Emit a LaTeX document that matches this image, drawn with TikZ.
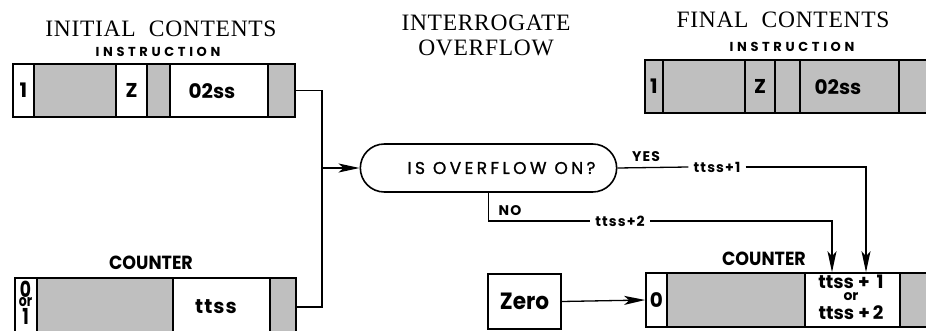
\documentclass[tikz,border=0pt]{standalone}
\usepackage{fontspec}
\setmainfont{Liberation Serif}
\newfontfamily\titlefont[LetterSpace=3]{Liberation Serif}
\newfontfamily\geo{Poppins}
\newfontfamily\geocap[LetterSpace=28]{Poppins}
\newfontfamily\geobox[FakeStretch=0.92]{Poppins}
\newfontfamily\geoq[LetterSpace=20,FakeBold=1.2]{Poppins}
\newfontfamily\geolab[LetterSpace=8]{Poppins}
\newfontfamily\geonarrow[FakeStretch=0.78]{Poppins}
\usetikzlibrary{arrows.meta,shapes.misc}

\tikzset{
  cell/.style={draw, line width=1.6pt, inner sep=0pt, minimum height=#1},
  cell/.default=53pt,
  shade/.style={fill=black!25},
  title/.style={font=\titlefont\fontsize{23.5}{25}\selectfont, inner sep=0pt, align=center},
  caption/.style={font=\geocap\bfseries\fontsize{13}{14}\selectfont, inner sep=0pt},
  regname/.style={font=\geobox\bfseries\fontsize{19}{20}\selectfont, inner sep=0pt},
  celltext/.style={font=\geo\bfseries\fontsize{20}{21}\selectfont},
  conn/.style={line width=1.3pt},
  flowlabel/.style={font=\geolab\bfseries\fontsize{14}{15}\selectfont, inner sep=5pt},
  stack/.style={font=\geo\bfseries\fontsize{18.5}{19}\selectfont, inner sep=0pt},
  tip/.style={-{Stealth[length=21pt,width=9pt,inset=5pt]}},
}

\begin{document}
\begin{tikzpicture}[x=1pt,y=-1pt]
\useasboundingbox (0,0) rectangle (926,331);
\clip (0,0) rectangle (926,331);

% ---- headings ----
\node[title] (hInit) at (161,29) {INITIAL\ \ CONTENTS};
\node[title] (hIntr) at (486,35) {INTERROGATE\\OVERFLOW};
\node[title] (hFin) at (783,20) {FINAL\ \ CONTENTS};

% ---- initial instruction register ----
\node[caption] (capI1) at (158,52) {INSTRUCTION};
\node[cell, minimum width=21pt, celltext] (i1) at (23.5,90.5) {1};
\node[cell, shade, minimum width=82pt] (i2) at (75,90.5) {};
\node[cell, minimum width=31pt, celltext] (i3) at (131.5,90.5) {Z};
\node[cell, shade, minimum width=23pt] (i4) at (158.5,90.5) {};
\node[cell, minimum width=98pt] (i5) at (219,90.5) {};
\node[celltext, inner sep=0pt] (i5txt) at (212,91) {02ss};
\node[cell, shade, minimum width=27pt] (i6) at (281.5,90.5) {};

% ---- initial counter register ----
\node[regname] (capC1) at (151,263) {COUNTER};
\node[cell=58pt, minimum width=22pt] (c1) at (26,307) {};
\node[font=\geonarrow\bfseries\fontsize{22}{22}\selectfont, inner sep=0pt] (c1a) at (25.5,289) {0};
\node[font=\geonarrow\bfseries\fontsize{16}{16}\selectfont, inner sep=0pt] (c1b) at (25.5,302) {or};
\node[font=\geonarrow\bfseries\fontsize{22}{22}\selectfont, inner sep=0pt] (c1c) at (25.5,316) {1};
\node[cell=58pt, shade, minimum width=136pt] (c2) at (105,307) {};
\node[cell=58pt, minimum width=97pt] (c3) at (221.5,307) {};
\node[celltext, inner sep=0pt] (c3txt) at (216,307) {t\kern1pt t\kern1pt s\kern1pt s};
\node[cell=58pt, shade, minimum width=26pt] (c4) at (283,307) {};

% ---- decision ----
\node[draw, line width=1.6pt, rounded rectangle, minimum width=263pt, minimum height=48pt,
      font=\geoq\fontsize{17}{18}\selectfont] (dec) at (488.5,168) {\hspace*{26pt}IS OVERFLOW ON?};

% bus collecting both registers
\coordinate (bus) at (322,0);
\draw[conn] (i6.east) -| (bus |- c4.east) -- (c4.east);
\draw[conn, tip] (bus |- dec.west) -- (dec.west);

% ---- final instruction register ----
\node[caption] (capI2) at (792,47) {INSTRUCTION};
\node[cell, shade, minimum width=18pt, celltext] (g1) at (654,86.5) {1};
\node[cell, shade, minimum width=82pt] (g2) at (704,86.5) {};
\node[cell, shade, minimum width=30pt, celltext] (g3) at (760,86.5) {Z};
\node[cell, shade, minimum width=25pt] (g4) at (787.5,86.5) {};
\node[cell, shade, minimum width=99pt] (g5) at (849.5,86.5) {};
\node[celltext, inner sep=0pt] (g5txt) at (838,87) {02ss};
\node[cell, shade, minimum width=41pt] (g6) at (919.5,86.5) {};

% ---- final counter register ----
\node[regname] (capC2) at (764,259) {COUNTER};
\node[cell=54pt, minimum width=21pt, celltext] (f1) at (656.5,300) {0};
\node[cell=54pt, shade, minimum width=138pt] (f2) at (736,300) {};
\node[cell=54pt, minimum width=95pt] (f3) at (852.5,300) {};
\node[stack] (f3a) at (851,282) {ttss\kern4pt+\kern7pt1};
\node[stack, font=\geo\bfseries\fontsize{14}{15}\selectfont] (f3b) at (851,297) {or};
\node[stack] (f3c) at (851,312.5) {ttss\kern4pt+\kern3pt2};
\node[cell=54pt, shade, minimum width=41pt] (f4) at (920.5,300) {};

% ---- zero source ----
\node[draw, line width=1.6pt, minimum width=73pt, minimum height=55pt,
      font=\geobox\bfseries\fontsize{23.5}{24}\selectfont] (zero) at (524.5,301.5) {Zero};
\draw[conn, tip] (zero.east) -- (f1.west);

% ---- YES branch ----
\node[flowlabel, inner sep=0pt, anchor=south] (yes) at (646,162) {YES};
\node[flowlabel] (t1) at (717,167) {ttss+1};
\coordinate (yesDrop) at (866,0);
\draw[conn] (dec.east) -- (t1.west);
\draw[conn, tip] (t1.east) -| (yesDrop |- f3.north);

% ---- NO branch ----
\node[flowlabel, inner sep=0pt, anchor=south] (no) at (510,216) {NO};
\node[flowlabel] (t2) at (620,221) {ttss+2};
\coordinate (noDrop) at (832,0);
\draw[conn] (dec.south) |- (t2.west);
\draw[conn, tip] (t2.east) -| (noDrop |- f3.north);
\end{tikzpicture}
\end{document}
